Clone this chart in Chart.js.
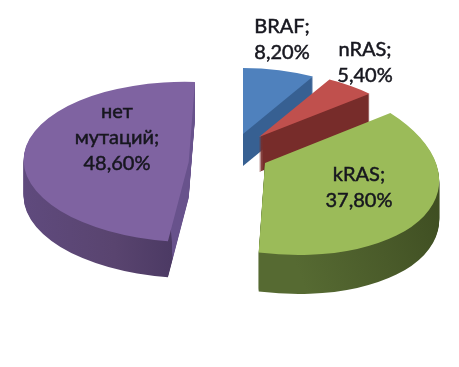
<!DOCTYPE html>
<html>
<head>
<meta charset="utf-8">
<style>
html, body { margin: 0; padding: 0; background: #fff; }
canvas { display: block; }
</style>
<script src="https://cdn.jsdelivr.net/npm/chart.js@4/dist/chart.umd.js"></script>
</head>
<body>
<canvas id="chart" width="459" height="367"></canvas>
<script>
const categories = ['BRAF', 'nRAS', 'kRAS', 'нет мутаций']
const values = [8.2, 5.4, 37.8, 48.6]
const topColors = ['#4f81bd', '#c0504d', '#9bbb59', '#7f63a1']

// how each wedge sits on the page: apex, ellipse matrix, extrusion depth, side shading
const wedges = [
    { apex: [243, 134], m: [142, 0, 0, 66], depth: 32, side: [[243, '#376092'], [320, '#376092']] },
    { apex: [259, 137], m: [150, 4, 0, 66], depth: 35, side: [[259, '#772c2a'], [370, '#772c2a']] },
    { apex: [265, 163], m: [174, 9, 13, 91], depth: 39, side: [[259, '#566a32'], [350, '#4a5b2a'], [442, '#3c4b20']] },
    { apex: [188.7, 162], m: [165, -6.3, 5, 80], depth: 36, side: [[23, '#5f4a7d'], [110, '#59446f'], [167.5, '#4c3a64'], [168, '#68528c'], [200, '#68528c']] }
]
const drawOrder = [0, 1, 3, 2]
const textSpots = [[282, 27], [365, 50], [359, 175], [117, 112]]
const lineGap = 26

const fakeDepth = {
    id: 'fakeDepth',
    beforeDatasetsDraw(chart) {
        const ctx = chart.ctx
        const arcs = chart.getDatasetMeta(0).data
        drawOrder.forEach(i => {
            const arc = arcs[i]
            const w = wedges[i]
            const r = arc.outerRadius
            const orig = arc.options
            ctx.save()
            for (let d = w.depth; d >= 0; d--) {
                ctx.save()
                ctx.translate(w.apex[0], w.apex[1] + d)
                ctx.transform(w.m[0] / r, w.m[2] / r, w.m[1] / r, w.m[3] / r, 0, 0)
                ctx.translate(-arc.x, -arc.y)
                let fill = topColors[i]
                if (d > 0) {
                    const inv = ctx.getTransform().inverse()
                    const stops = w.side
                    const x0 = stops[0][0], x1 = stops[stops.length - 1][0]
                    const p0 = inv.transformPoint(new DOMPoint(x0, w.apex[1]))
                    const p1 = inv.transformPoint(new DOMPoint(x1, w.apex[1]))
                    fill = ctx.createLinearGradient(p0.x, p0.y, p1.x, p1.y)
                    stops.forEach(s => fill.addColorStop((s[0] - x0) / (x1 - x0), s[1]))
                }
                arc.options = Object.assign({}, orig, { backgroundColor: fill })
                arc.draw(ctx)
                ctx.restore()
            }
            arc.options = orig
            ctx.restore()
        })
        return false
    },
    afterDraw(chart) {
        const ctx = chart.ctx
        ctx.save()
        ctx.font = '20px Lato, "Noto Sans", sans-serif'
        ctx.textAlign = 'center'
        ctx.textBaseline = 'middle'
        ctx.fillStyle = '#17171f'
        ctx.strokeStyle = '#17171f'
        ctx.lineWidth = 0.5
        categories.forEach((name, i) => {
            const lines = name.split(' ')
            lines[lines.length - 1] += ';'
            lines.push(values[i].toFixed(2).replace('.', ',') + '%')
            lines.forEach((t, n) => {
                ctx.fillText(t, textSpots[i][0], textSpots[i][1] + n * lineGap)
                ctx.strokeText(t, textSpots[i][0], textSpots[i][1] + n * lineGap)
            })
        })
        ctx.restore()
    }
}

new Chart(document.getElementById('chart').getContext('2d'), {
    type: 'pie',
    data: {
        labels: categories,
        datasets: [{ data: values, backgroundColor: topColors, borderWidth: 0 }]
    },
    options: {
        responsive: false,
        animation: false,
        plugins: {
            legend: { display: false },
            tooltip: { enabled: false }
        }
    },
    plugins: [fakeDepth]
})
</script>
</body>
</html>
